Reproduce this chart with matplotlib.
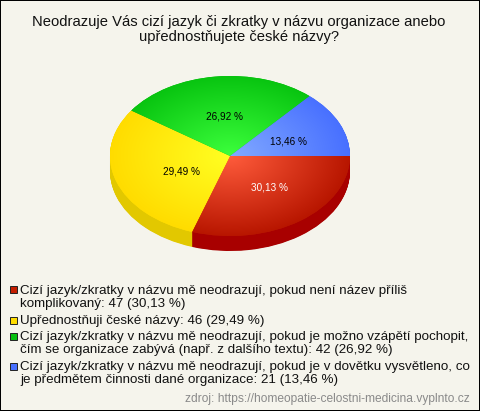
import numpy as np
import matplotlib
matplotlib.use('Agg')
import matplotlib.pyplot as plt
from matplotlib.colors import LinearSegmentedColormap
from matplotlib.patches import Rectangle

plt.rcParams['font.family'] = ['Liberation Sans', 'DejaVu Sans']

title = 'Neodrazuje Vás cizí jazyk či zkratky v názvu organizace anebo\nupřednostňujete české názvy?'
source = 'zdroj: https://homeopatie-celostni-medicina.vyplnto.cz'

counts = [47, 46, 42, 21]
percent_labels = ['30,13 %', '29,49 %', '26,92 %', '13,46 %']
legend_labels = [
    'Cizí jazyk/zkratky v názvu mě neodrazují, pokud není název příliš\nkomplikovaný: 47 (30,13 %)',
    'Upřednostňuji české názvy: 46 (29,49 %)',
    'Cizí jazyk/zkratky v názvu mě neodrazují, pokud je možno vzápětí pochopit,\nčím se organizace zabývá (např. z dalšího textu): 42 (26,92 %)',
    'Cizí jazyk/zkratky v názvu mě neodrazují, pokud je v dovětku vysvětleno, co\nje předmětem činnosti dané organizace: 21 (13,46 %)',
]

inner_colors = ['#ff5c3c', '#ffff22', '#3cff3c', '#82aaff']
outer_colors = ['#b81600', '#ffdc00', '#08c410', '#4870ff']
wall_colors = ['#a80000', '#e2c800', '#08a010', '#3050c0']
legend_colors = ['#c41e00', '#ffdc00', '#08c010', '#4870ff']
percent_colors = ['white', 'black', 'black', 'black']

# label spots and legend rows, in image pixels
percent_xy = [(269.5, 187), (181.5, 171), (225, 116), (289, 141)]
legend_block_y = [297.5, 321, 343.5, 373.5]
legend_box_y = [289, 320, 336, 366]

W, H = 480, 411
fig = plt.figure(figsize=(W / 100, H / 100), dpi=100)
fig.patch.set_facecolor('#f5f4ec')
fig.patch.set_edgecolor('black')
fig.patch.set_linewidth(1.44)

# pie axes: 120 px per unit across, 80 px per unit down, centre at (230, 156)
ax = fig.add_axes([80 / W, 1 - 276 / H, 300 / W, 220 / H])
ax.patch.set_alpha(0)

# side wall, stacked from the bottom up
for depth in np.arange(15, 0, -0.5) / 80:
    ax.pie(counts, colors=wall_colors, startangle=0, counterclock=False,
           center=(0, -depth), radius=1, wedgeprops={'linewidth': 0})

wedges, _ = ax.pie(counts, colors=outer_colors, startangle=0, counterclock=False,
                   radius=1, wedgeprops={'linewidth': 0})

# radial shading on the top face
xx, yy = np.meshgrid(np.linspace(-1, 1, 400), np.linspace(-1, 1, 400))
rr = np.clip(np.hypot(xx, yy), 0, 1)
for wedge, inner, outer in zip(wedges, inner_colors, outer_colors):
    cmap = LinearSegmentedColormap.from_list('shade', [inner, outer])
    im = ax.imshow(rr, cmap=cmap, vmin=0, vmax=1, extent=(-1, 1, -1, 1), origin='lower', zorder=2)
    im.set_clip_path(wedge)

ax.set_aspect('auto')
ax.set_xlim(-1.25, 1.25)
ax.set_ylim(-1.5, 1.25)
ax.axis('off')

# overlay in pixel coordinates for the texts and legend
over = fig.add_axes([0, 0, 1, 1])
over.set_xlim(0, W)
over.set_ylim(H, 0)
over.axis('off')
over.patch.set_alpha(0)

over.text(239, 29.5, title, ha='center', va='center', fontsize=10.6, color='#111111', linespacing=1.17)

for label, (x, y), col in zip(percent_labels, percent_xy, percent_colors):
    over.text(x, y, label, ha='center', va='center', fontsize=7.2, color=col)

for label, y, by, col in zip(legend_labels, legend_block_y, legend_box_y, legend_colors):
    over.add_patch(Rectangle((10, by - 3.5), 7, 7, facecolor=col, edgecolor='#222222', linewidth=0.7))
    over.text(20, y, label, ha='left', va='center', fontsize=9.6, color='#111111', linespacing=1.1)

over.text(470, 399, source, ha='right', va='center', fontsize=8.68, color='#8a8a8a')

fig.savefig('out.png', dpi=100)
